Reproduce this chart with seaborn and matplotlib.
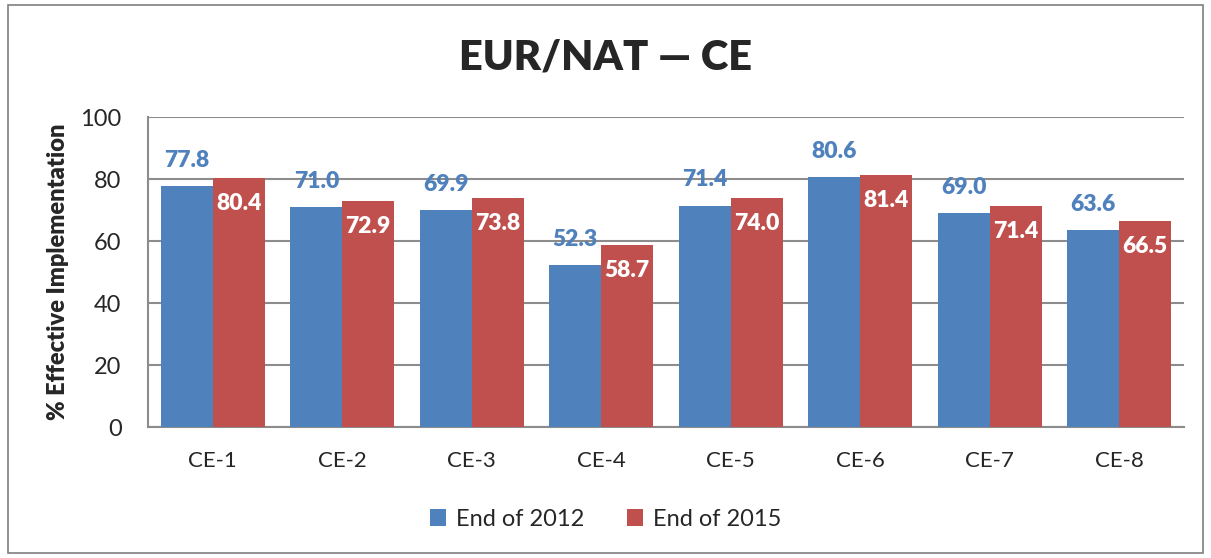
import matplotlib
matplotlib.use("Agg")
import matplotlib.pyplot as plt
import matplotlib.patches as mpatches
import seaborn as sns
import pandas as pd
import numpy as np

categories = ["CE-1", "CE-2", "CE-3", "CE-4", "CE-5", "CE-6", "CE-7", "CE-8"]
series_names = ["End of 2012", "End of 2015"]
values_2012 = [77.8, 71.0, 69.9, 52.3, 71.4, 80.6, 69.0, 63.6]
values_2015 = [80.4, 72.9, 73.8, 58.7, 74.0, 81.4, 71.4, 66.5]
y_ticks = [0, 20, 40, 60, 80, 100]
title = "EUR/NAT \u2014 CE"
y_label = "% Effective Implementation"

blue = "#4F81BD"
red = "#C0504D"
grid_c = "#8C8C8C"

df = pd.DataFrame({
    "cat": categories * 2,
    "series": [series_names[0]] * len(categories) + [series_names[1]] * len(categories),
    "val": values_2012 + values_2015,
})

sns.set_style("white")
plt.rcParams["font.family"] = ["Lato", "DejaVu Sans"]

fig = plt.figure(figsize=(12.11, 5.58), dpi=100)
ax = fig.add_axes([148/1211, 1-427/558, (1184-148)/1211, (427-117)/558])

sns.barplot(data=df, x="cat", y="val", hue="series", palette=[blue, red],
            width=0.8, ax=ax, legend=True, saturation=1, edgecolor="none", zorder=3)

ax.set_ylim(0, 100)
ax.set_xlim(-0.5, len(categories) - 0.5)
ax.set_yticks(y_ticks)
ax.set_yticklabels([str(t) for t in y_ticks], fontsize=17)
ax.yaxis.grid(True, color=grid_c, linewidth=1.5, zorder=0)
ax.set_axisbelow(True)
ax.tick_params(axis="y", length=7, width=1.5, color=grid_c, direction="out", pad=12)
ax.tick_params(axis="x", which="major", length=0, labelsize=16, pad=17)
ax.set_xticks(np.arange(-0.5, len(categories)), minor=True)
ax.tick_params(axis="x", which="minor", length=8, width=1.5, color=grid_c, direction="out")
for s in ["top", "right"]:
    ax.spines[s].set_visible(False)
for s in ["left", "bottom"]:
    ax.spines[s].set_color(grid_c)
    ax.spines[s].set_linewidth(1.5)
ax.set_xlabel("")
ax.set_ylabel(y_label, fontsize=17, fontweight="heavy", labelpad=8)

# data labels
for cont, col in zip(ax.containers, ["blue", "red"]):
    for bar in cont:
        h = bar.get_height()
        xc = bar.get_x() + bar.get_width() / 2
        if col == "blue":
            ax.annotate(f"{h:.1f}", (xc, h), xytext=(0, 11), textcoords="offset points",
                        ha="center", va="bottom", color=blue, fontsize=16.5, fontweight="heavy")
        else:
            ax.annotate(f"{h:.1f}", (xc, h), xytext=(0, -11), textcoords="offset points",
                        ha="center", va="top", color="white", fontsize=16.5, fontweight="heavy")

fig.text(0.5, 1-58/558, title, ha="center", va="center", fontsize=30, fontweight="heavy")

leg = ax.legend(loc="center", bbox_to_anchor=(0.5, 1-519/558), bbox_transform=fig.transFigure,
                ncol=2, frameon=False, fontsize=17, handlelength=0.7, handleheight=0.7,
                handletextpad=0.4, columnspacing=1.8)

fig.patches.append(mpatches.Rectangle((8/1211, 1-553/558), (1203-8)/1211, (553-5)/558,
                                      transform=fig.transFigure, fill=False,
                                      edgecolor="#7F7F7F", linewidth=1.2))

fig.savefig("out.png", dpi=100)
